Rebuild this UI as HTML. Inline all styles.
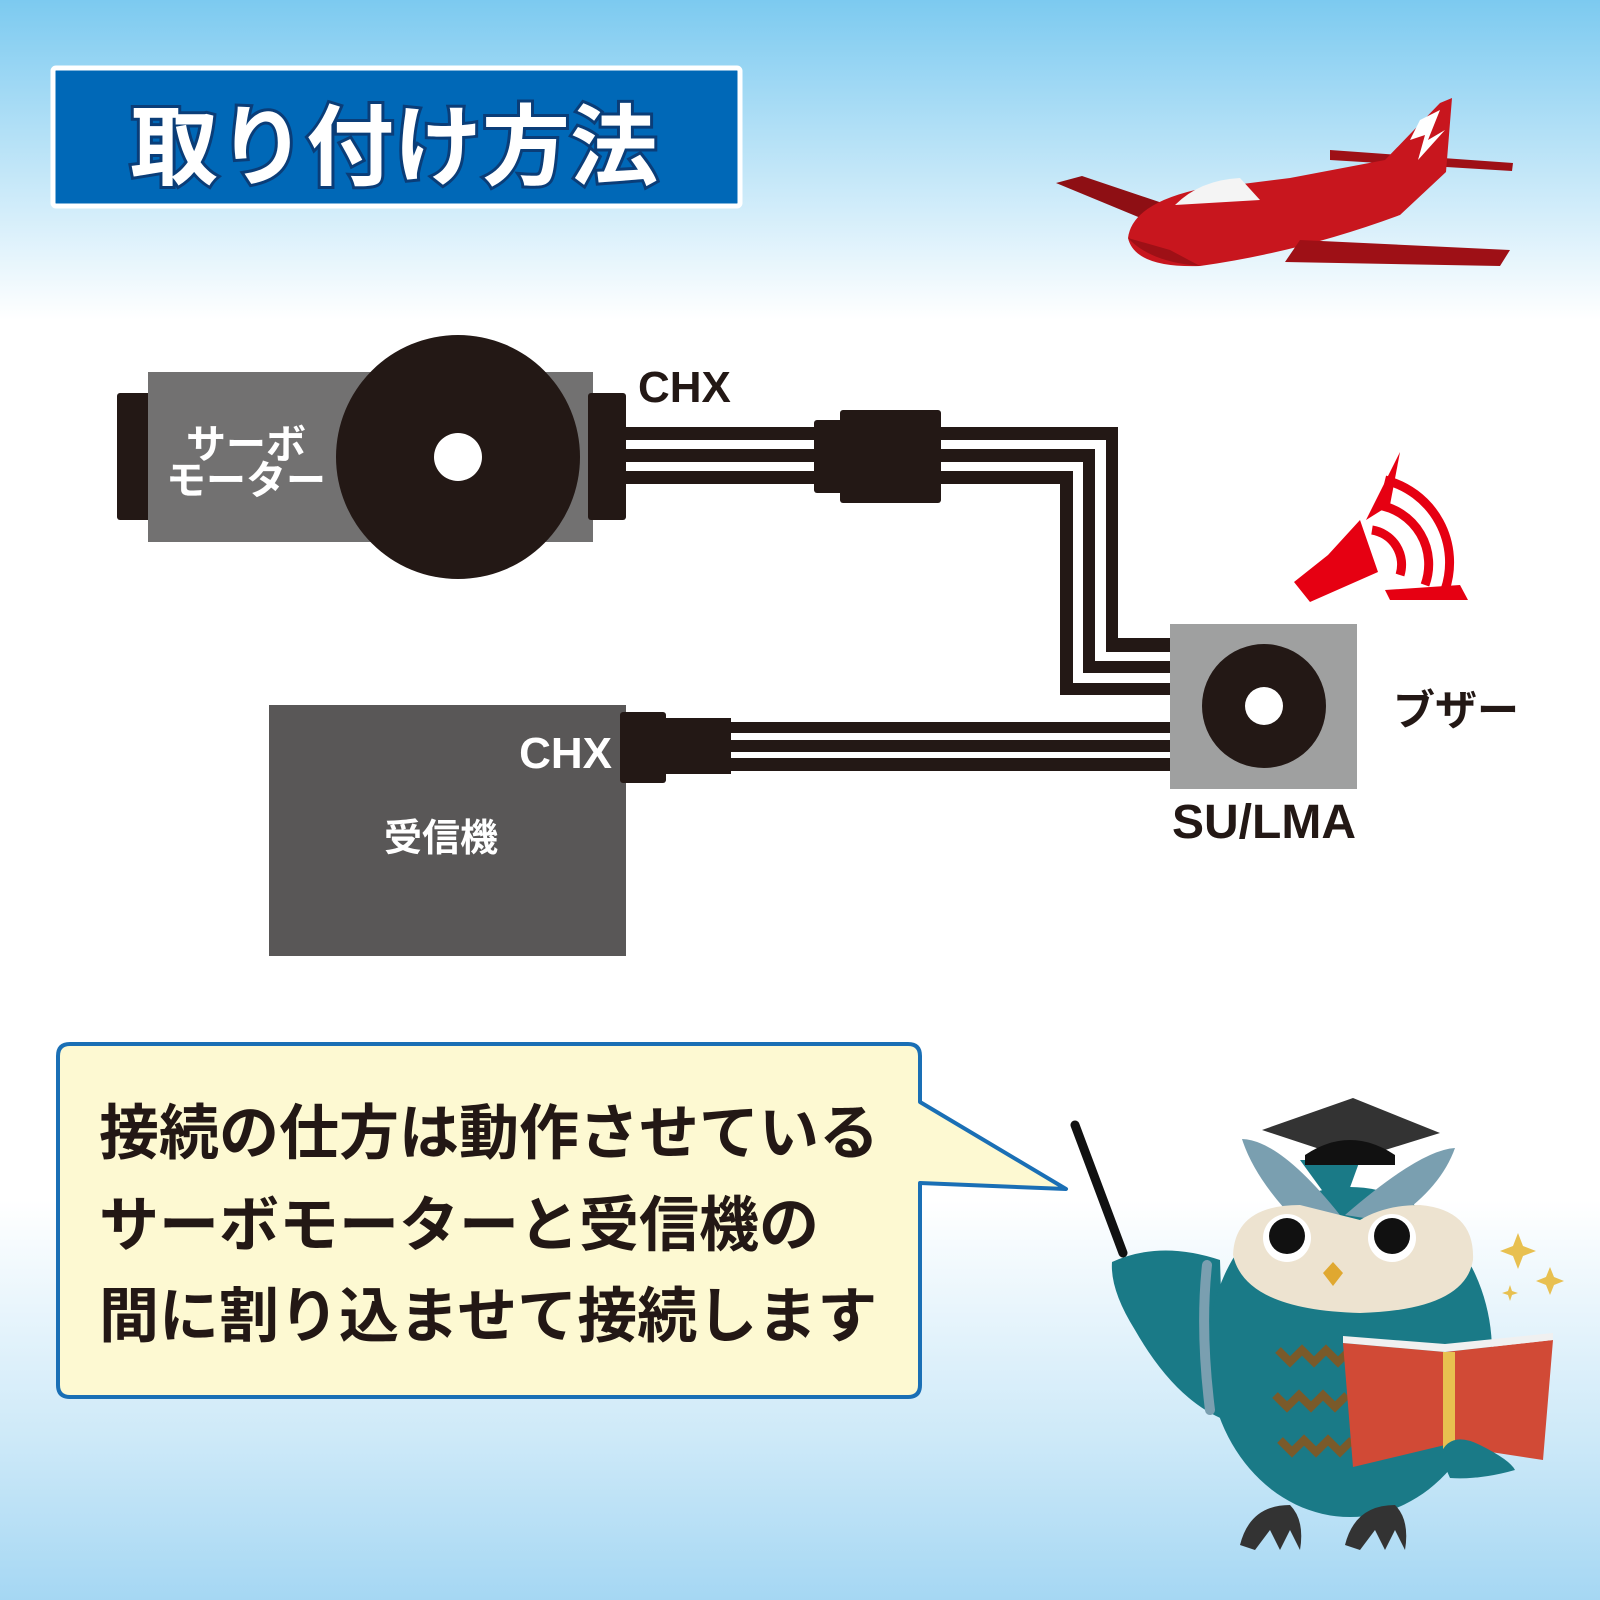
<!DOCTYPE html>
<html><head><meta charset="utf-8"><style>
html,body{margin:0;padding:0;}
body{width:1600px;height:1600px;overflow:hidden;}
svg{display:block;}
.jp{font-family:"Liberation Sans","Noto Sans CJK JP",sans-serif;font-weight:bold;}
</style></head><body>
<svg width="1600" height="1600" viewBox="0 0 1600 1600" xmlns="http://www.w3.org/2000/svg">
<defs>
<linearGradient id="bg" x1="0" y1="0" x2="0" y2="1">
<stop offset="0" stop-color="#7ccaf0"/>
<stop offset="0.2" stop-color="#ffffff"/>
<stop offset="0.75" stop-color="#ffffff"/>
<stop offset="0.9" stop-color="#cde9f8"/>
<stop offset="1" stop-color="#a5d7f3"/>
</linearGradient>
</defs>
<rect width="1600" height="1600" fill="url(#bg)"/>

<!-- Title -->
<rect x="53" y="68" width="687" height="138" fill="#0068b7" stroke="#ffffff" stroke-width="5" rx="3"/>
<text x="130" y="178" class="jp" font-size="88" fill="#ffffff" stroke="#0a3d78" stroke-width="6" paint-order="stroke" font-weight="900">取り付け方法</text>

<!-- Plane -->
<g>
<polygon points="1056,183 1082,176 1195,214 1165,228" fill="#8e0f14"/>
<polygon points="1330,150 1513,163 1512,171 1330,160" fill="#9e1016"/>
<path d="M1128,238 Q1132,205 1195,190 L1290,178 L1385,160 L1440,103 L1452,98 L1446,172 L1400,215 Q1300,252 1200,266 Q1135,268 1128,238 Z" fill="#c8161e"/>
<path d="M1175,205 Q1200,180 1240,178 L1260,200 Z" fill="#f4f4f4"/>
<polygon points="1300,240 1510,250 1500,266 1285,262" fill="#9e1016"/>
<polygon points="1420,120 1440,110 1428,140 1445,130 1418,160 1425,135 1410,140" fill="#ffffff"/>
<path d="M1128,238 Q1150,262 1200,266 L1170,250 Z" fill="#9e1016"/>
</g>

<!-- Speaker -->
<g>
<polygon points="1294,582 1328,555 1360,520 1378,572 1310,602" fill="#e60012"/>
<polygon points="1366,520 1400,452 1390,505 Z" fill="#e60012"/>
<path d="M1372,530 A35,35 0 0 1 1400,575" fill="none" stroke="#e60012" stroke-width="9"/>
<path d="M1378,505 A60,60 0 0 1 1425,585" fill="none" stroke="#e60012" stroke-width="9"/>
<path d="M1385,480 A85,85 0 0 1 1445,590" fill="none" stroke="#e60012" stroke-width="9"/>
<polygon points="1385,590 1460,585 1468,600 1390,600" fill="#e60012"/>
</g>

<!-- Servo -->
<rect x="117" y="393" width="40" height="127" rx="3" fill="#231815"/>
<rect x="148" y="372" width="445" height="170" fill="#727171"/>
<rect x="588" y="393" width="38" height="127" rx="3" fill="#231815"/>
<circle cx="458" cy="457" r="122" fill="#231815"/>
<circle cx="458" cy="457" r="24" fill="#ffffff"/>
<text x="246" y="458" class="jp" font-size="40" fill="#ffffff" text-anchor="middle">サーボ</text>
<text x="246" y="494" class="jp" font-size="40" fill="#ffffff" text-anchor="middle">モーター</text>
<text x="638" y="402" class="jp" font-size="44" fill="#231815">CHX</text>

<!-- Upper wires -->
<g fill="#231815">
<rect x="626" y="427" width="190" height="13"/>
<rect x="626" y="449" width="190" height="13"/>
<rect x="626" y="471" width="190" height="13"/>
<rect x="814" y="420" width="30" height="73" rx="3"/>
<rect x="840" y="410" width="101" height="93" rx="3"/>
<rect x="941" y="427" width="177" height="13"/>
<rect x="1106" y="427" width="12" height="225"/>
<rect x="1106" y="638" width="64" height="14"/>
<rect x="941" y="449" width="154" height="13"/>
<rect x="1083" y="449" width="12" height="224"/>
<rect x="1083" y="661" width="87" height="12"/>
<rect x="941" y="471" width="132" height="13"/>
<rect x="1060" y="471" width="13" height="224"/>
<rect x="1060" y="683" width="110" height="12"/>
<rect x="731" y="722" width="440" height="11"/>
<rect x="731" y="740" width="440" height="12"/>
<rect x="731" y="758" width="440" height="13"/>
</g>

<!-- Receiver -->
<rect x="269" y="705" width="357" height="251" fill="#595757"/>
<rect x="620" y="712" width="46" height="71" rx="3" fill="#231815"/>
<rect x="660" y="718" width="71" height="56" fill="#231815"/>
<text x="612" y="768" class="jp" font-size="44" fill="#ffffff" text-anchor="end">CHX</text>
<text x="441" y="851" class="jp" font-size="38" fill="#ffffff" text-anchor="middle">受信機</text>

<!-- Buzzer -->
<rect x="1170" y="624" width="187" height="165" fill="#9fa0a0"/>
<circle cx="1264" cy="706" r="62" fill="#231815"/>
<circle cx="1264" cy="706" r="19" fill="#ffffff"/>
<text x="1172" y="838" class="jp" font-size="48" fill="#231815">SU/LMA</text>
<text x="1393" y="725" class="jp" font-size="42" fill="#231815">ブザー</text>

<!-- Speech bubble -->
<path d="M70,1044 L908,1044 Q920,1044 920,1056 L920,1102 L1066,1189 L920,1183 L920,1385 Q920,1397 908,1397 L70,1397 Q58,1397 58,1385 L58,1056 Q58,1044 70,1044 Z" fill="#fdf9d2" stroke="#1a6fb5" stroke-width="4" stroke-linejoin="round"/>
<text x="99" y="1154" class="jp" font-size="60" fill="#231815">接続の仕方は動作させている</text>
<text x="99" y="1246" class="jp" font-size="60" fill="#231815">サーボモーターと受信機の</text>
<text x="99" y="1337" class="jp" font-size="60" fill="#231815">間に割り込ませて接続します</text>

<!-- Owl -->
<g>
<line x1="1075" y1="1125" x2="1123" y2="1253" stroke="#111" stroke-width="9" stroke-linecap="round"/>
<path d="M1112,1262 Q1160,1240 1220,1260 L1225,1420 Q1175,1400 1135,1330 Q1110,1290 1112,1262 Z" fill="#1a7a87"/>
<ellipse cx="1350" cy="1352" rx="142" ry="165" fill="#1a7a87"/>
<path d="M1207,1265 Q1200,1330 1210,1410" fill="none" stroke="#7a9fb0" stroke-width="10" stroke-linecap="round"/>
<path d="M1242,1139 Q1280,1140 1340,1215 L1300,1225 Q1255,1180 1242,1139 Z" fill="#7a9fb0"/>
<path d="M1455,1148 Q1420,1150 1345,1215 L1390,1222 Q1440,1190 1455,1148 Z" fill="#7a9fb0"/>
<path d="M1233,1255 Q1235,1205 1300,1205 Q1340,1215 1360,1220 Q1385,1205 1420,1205 Q1475,1210 1473,1260 Q1465,1310 1360,1313 Q1245,1310 1233,1255 Z" fill="#ede3d0"/>
<path d="M1300,1160 L1360,1160 L1340,1215 Z" fill="#1a7a87"/>
<polygon points="1262,1130 1353,1098 1440,1133 1353,1160" fill="#333"/>
<path d="M1305,1155 Q1350,1125 1395,1155 L1395,1165 L1305,1165 Z" fill="#111"/>
<circle cx="1287" cy="1238" r="24" fill="#fff"/>
<circle cx="1287" cy="1236" r="18" fill="#111"/>
<circle cx="1392" cy="1238" r="24" fill="#fff"/>
<circle cx="1392" cy="1236" r="18" fill="#111"/>
<polygon points="1333,1262 1343,1273 1333,1286 1323,1273" fill="#e0a830"/>
<path d="M1278,1350 l12,12 12,-12 12,12 12,-12 12,12 12,-12 M1275,1395 l12,12 12,-12 12,12 12,-12 12,12 12,-12 M1280,1440 l12,12 12,-12 12,12 12,-12 12,12 12,-12" fill="none" stroke="#7a5a2a" stroke-width="8"/>
<polygon points="1343,1343 1445,1352 1553,1340 1543,1460 1445,1445 1353,1467" fill="#d14a36"/>
<polygon points="1343,1343 1445,1352 1553,1340 1553,1333 1445,1344 1343,1336" fill="#f0f0f0"/>
<rect x="1443" y="1352" width="12" height="100" fill="#e8c050"/>
<path d="M1440,1455 Q1450,1430 1480,1445 Q1510,1460 1515,1470 Q1480,1480 1450,1478 Z" fill="#1a7a87"/>
<path d="M1240,1545 Q1250,1505 1290,1505 Q1305,1520 1300,1550 L1290,1530 L1280,1550 L1270,1530 L1255,1550 Z" fill="#333"/>
<path d="M1345,1545 Q1355,1505 1395,1505 Q1410,1520 1405,1550 L1395,1530 L1385,1550 L1375,1530 L1360,1550 Z" fill="#333"/>
<path d="M1518,1233 l5,13 13,5 -13,5 -5,13 -5,-13 -13,-5 13,-5 Z" fill="#e8c050"/>
<path d="M1550,1267 l4,10 10,4 -10,4 -4,10 -4,-10 -10,-4 10,-4 Z" fill="#e8c050"/>
<path d="M1510,1285 l2,6 6,2 -6,2 -2,6 -2,-6 -6,-2 6,-2 Z" fill="#e8c050"/>
</g>
</svg>
</body></html>
